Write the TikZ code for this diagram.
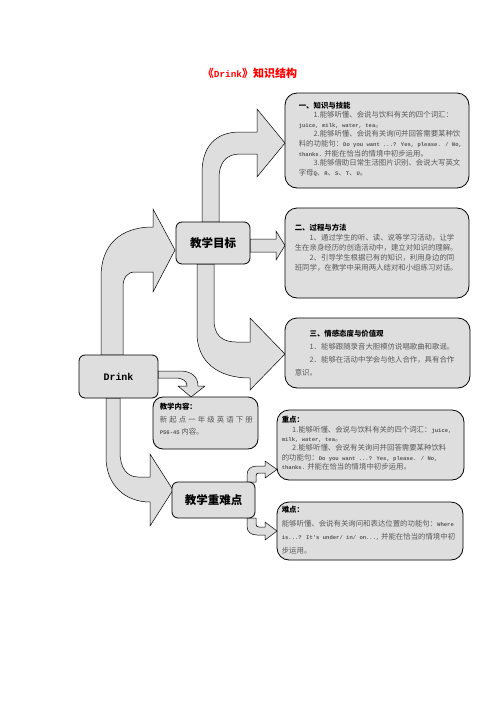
\documentclass[tikz,border=0pt]{standalone}
\usepackage{fontspec}
\setmainfont{Liberation Serif}
\newfontfamily\cjk{Noto Sans CJK SC}
\newfontfamily\drinkmono[Scale=0.75]{Liberation Mono}
\newcommand\eng[1]{{\drinkmono\bfseries #1}}
\definecolor{boxgray}{gray}{0.87}
\definecolor{bodygray}{gray}{0.35}
\begin{document}
\begin{tikzpicture}[x=1pt,y=-1pt,
  box/.style={draw,line width=0.8pt,fill=boxgray,rounded corners=#1,inner sep=0pt},
  box/.default=12pt,
  barrow/.style={draw,line width=0.5pt,fill=boxgray},
  txt/.style={anchor=north west,inner sep=0pt,align=left,text=bodygray,
    font=\cjk\fontsize{7.4}{9.6}\selectfont},
  head/.style={font=\cjk\bfseries\fontsize{11.5}{13}\selectfont}]
\path[fill=white] (0,0) rectangle (496,702);
\node[text=red,font=\cjk\bfseries\fontsize{11}{13}\selectfont] (title) at (250,73) {《{\drinkmono\bfseries\fontsize{12.5}{13}\selectfont Drink}》知识结构};
% block arrows
\draw[barrow] (101,355) -- (101,277) .. controls (101,245) and (120,227) .. (153,227) -- (153,209) -- (175,250) -- (153,292) -- (153,272) -- (135,272) .. controls (127,272) and (123,278) .. (123,287) -- (123,355) -- cycle;
\draw[barrow] (202,222) -- (202,173) .. controls (202,147) and (215,132) .. (240,132) -- (257,132) -- (257,109) -- (285,143) -- (257,177) -- (257,154) -- (240,154) .. controls (226,154) and (219,163) .. (219,178) -- (219,222) -- cycle;
\draw[barrow] (250,239) -- (276,239) -- (276,231) -- (285,245.5) -- (276,260) -- (276,252) -- (250,252) -- cycle;
\draw[barrow] (197,264) -- (197,333) .. controls (197,362) and (218,378) .. (250,378) -- (250,390) -- (285,354) -- (250,318) -- (250,342) -- (236,342) .. controls (222,342) and (214,335) .. (214,320) -- (214,264) -- cycle;
\draw[barrow] (158,371) -- (180,371) .. controls (192,371) and (198,377) .. (198,386) -- (205,386) -- (191,397) -- (178,386) -- (187,386) .. controls (187,381) and (183,378) .. (175,378) -- (158,378) -- cycle;
\draw[barrow] (106,398) -- (106,457) .. controls (106,485) and (125,502) .. (150,502) -- (150,526) -- (173,490) -- (150,454) -- (150,477) -- (138,477) .. controls (127,477) and (120,468) .. (120,452) -- (120,398) -- cycle;
\draw[barrow] (247,482) -- (247,475) .. controls (247,469) and (251,466) .. (257,466) -- (265,466) -- (265,461) -- (277,469.5) -- (265,478) -- (265,473) -- (259,473) .. controls (257,473) and (256,474) .. (256,476) -- (256,482) -- cycle;
\draw[barrow] (247,518) -- (247,526) .. controls (247,532) and (251,535) .. (257,535) -- (265,535) -- (265,540) -- (277,531) -- (265,522) -- (265,527) -- (259,527) .. controls (257,527) and (256,526) .. (256,524) -- (256,518) -- cycle;
% boxes
\node[box=6pt,minimum width=79pt,minimum height=43pt,font=\drinkmono\bfseries\fontsize{13.3}{14}\selectfont] (drink) at (118.5,376.5) {Drink};
\node[box=6pt,minimum width=74pt,minimum height=42pt,head] (goal) at (213,243) {教学目标};
\node[box=6pt,minimum width=83pt,minimum height=36pt,head] (keys) at (213.5,500) {教学重难点};
\node[box=10pt,minimum width=105pt,minimum height=52pt] (content) at (205.5,423) {};
\node[box,minimum width=184pt,minimum height=95pt] (skill) at (377,140.5) {};
\node[box,minimum width=184pt,minimum height=90pt] (method) at (377,253) {};
\node[box,minimum width=185pt,minimum height=70pt] (attitude) at (377.5,353) {};
\node[box,minimum width=187pt,minimum height=70pt] (zhong) at (370.5,445) {};
\node[box,minimum width=186pt,minimum height=58pt] (nan) at (370,531) {};
% texts
\node[txt] (skilltxt) at ([shift={(14,9)}]skill.north west) {{\color{black}\bfseries 一、知识与技能}\\
\hspace*{2em}1.能够听懂、会说与饮料有关的四个词汇：\\
\eng{juice, milk, water, tea}。\\
\hspace*{2em}2.能够听懂、会说有关询问并回答需要某种饮\\
料的功能句：\eng{Do you want ...? Yes, please. / No,}\\
\eng{thanks.} 并能在恰当的情境中初步运用。\\
\hspace*{2em}3.能够借助日常生活图片识别、会说大写英文\\
字母\eng{Q}、\eng{R}、\eng{S}、\eng{T}、\eng{U}。};
\node[txt,font=\cjk\fontsize{7.4}{10}\selectfont] (methodtxt) at ([shift={(10,16.5)}]method.north west) {{\color{black}\bfseries 二、过程与方法}\\
\hspace*{2em}1、通过学生的听、读、说等学习活动，让学\\
生在亲身经历的创造活动中，建立对知识的理解。\\
\hspace*{2em}2、引导学生根据已有的知识，利用身边的同\\
班同学，在教学中采用两人结对和小组练习对话。};
\node[txt,font=\cjk\fontsize{7.4}{13}\selectfont] (attitudetxt) at ([shift={(10,12.5)}]attitude.north west) {\hspace*{2em}{\color{black}\bfseries 三、情感态度与价值观}\\
\hspace*{2em}1．能够跟随录音大胆模仿说唱歌曲和歌谣。\\
\hspace*{2em}2．能够在活动中学会与他人合作，具有合作\\
意识。};
\node[txt,font=\cjk\fontsize{7.4}{12.5}\selectfont] (contenttxt) at ([shift={(7,6.5)}]content.north west) {{\color{black}\bfseries 教学内容：}\\
\makebox[93pt][s]{新\hfil 起\hfil 点\hfil 一\hfil 年\hfil 级\hfil 英\hfil 语\hfil 下\hfil 册}\\
\eng{P56-45} 内容。};
\node[txt,font=\cjk\fontsize{7.4}{9.4}\selectfont] (zhongtxt) at ([shift={(5,6.5)}]zhong.north west) {{\color{black}\bfseries 重点：}\\
\hspace*{1.4em}1.能够听懂、会说与饮料有关的四个词汇：\eng{juice,}\\
\eng{milk, water, tea}。\\
\hspace*{1.4em}2.能够听懂、会说有关询问并回答需要某种饮料\\
的功能句：\eng{Do you want ...? Yes, please. / No,}\\
\eng{thanks.} 并能在恰当的情境中初步运用。};
\node[txt,font=\cjk\fontsize{7.4}{13.5}\selectfont] (nantxt) at ([shift={(5,4.5)}]nan.north west) {{\color{black}\bfseries 难点：}\\
能够听懂、会说有关询问和表达位置的功能句：\eng{Where}\\
\eng{is...? It's under/ in/ on...,} 并能在恰当的情境中初\\
步运用。};
\end{tikzpicture}
\end{document}
